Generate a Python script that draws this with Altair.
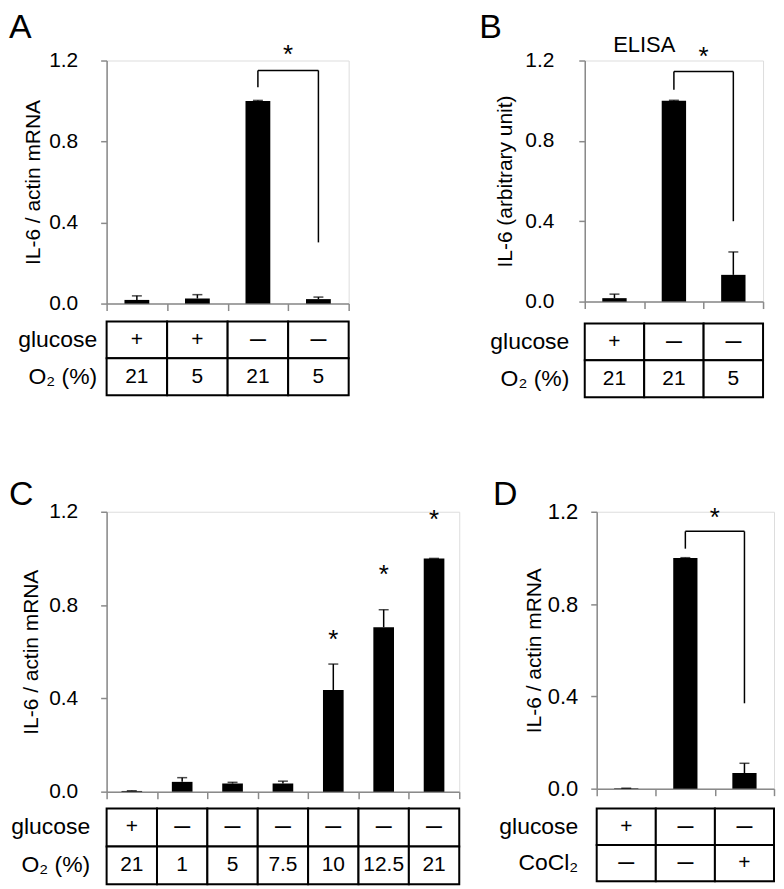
import altair as alt
import pandas as pd

FONT = "Liberation Sans"
AX = "#8a8a8a"
DASH = "—"

# ---------------- data ----------------
# Panel A
a_cats = ["A1", "A2", "A3", "A4"]
a_mean = [0.018, 0.025, 1.0, 0.022]
a_top = [0.038, 0.044, 1.003, 0.032]
a_rows = ["glucose", "O₂ (%)"]
a_glucose = ["+", "+", DASH, DASH]
a_o2 = ["21", "5", "21", "5"]
a_bracket = ["A3", "A4", 1.068, 0.302, 1.151]   # left, right, left low, right low, top
a_star_cat = ["A4"]
a_star_y = [1.263]

# Panel B
b_cats = ["B1", "B2", "B3"]
b_mean = [0.017, 1.0, 0.133]
b_top = [0.037, 1.002, 0.247]
b_rows = ["glucose", "O₂ (%)"]
b_glucose = ["+", DASH, DASH]
b_o2 = ["21", "21", "5"]
b_bracket = ["B2", "B3", 1.055, 0.40, 1.145]
b_star_cat = ["B3"]
b_star_y = [1.25]
b_label_cat = ["B2"]
b_label_y = [1.275]
b_label = ["ELISA"]

# Panel C
c_cats = ["C1", "C2", "C3", "C4", "C5", "C6", "C7"]
c_mean = [0.003, 0.042, 0.035, 0.035, 0.436, 0.705, 1.0]
c_top = [0.004, 0.060, 0.040, 0.045, 0.547, 0.780, 1.0]
c_rows = ["glucose", "O₂ (%)"]
c_glucose = ["+", DASH, DASH, DASH, DASH, DASH, DASH]
c_o2 = ["21", "1", "5", "7.5", "10", "12.5", "21"]
c_star_cat = ["C5", "C6", "C7"]
c_star_y = [0.678, 0.958, 1.196]

# Panel D
d_cats = ["D1", "D2", "D3"]
d_mean = [0.002, 1.0, 0.068]
d_top = [0.002, 1.001, 0.11]
d_rows = ["glucose", "CoCl₂"]
d_glucose = ["+", DASH, DASH]
d_cocl2 = [DASH, DASH, "+"]
d_bracket = ["D2", "D3", 1.04, 0.37, 1.115]
d_star_cat = ["D3"]
d_star_y = [1.205]


def panel(letter, cats, mean, top, rows, row_vals, w, h, ytitle, lab_pad,
          tit_pad, lab_fs, bracket, star_cat, star_y, star_band, tab_h, gap,
          row_pad, letter_dx, letter_dy, extra=None):
    xs = alt.Scale(domain=cats, paddingInner=0, paddingOuter=0)
    xaxis = alt.Axis(labels=False, title=None, ticks=True, tickBand="extent",
                     tickSize=7, tickColor=AX, domainColor=AX, tickWidth=1.5,
                     domainWidth=1.5)
    ys = alt.Scale(domain=[0, 1.2], nice=False, zero=True)
    yaxis = alt.Axis(values=[0, 0.4, 0.8, 1.2], format=".1f", grid=False,
                     title=ytitle, titleFont=FONT, titleFontSize=21,
                     titleFontWeight="normal", titleColor="black",
                     titlePadding=tit_pad, labelFont=FONT, labelFontSize=lab_fs,
                     labelColor="black", labelPadding=lab_pad, tickSize=6,
                     tickColor=AX, domainColor=AX, tickWidth=1.5, domainWidth=1.5)

    def X(field="cat", band=None):
        if band is None:
            return alt.X(f"{field}:N", sort=cats, scale=xs, axis=xaxis)
        return alt.X(f"{field}:N", sort=cats, scale=xs, axis=xaxis, bandPosition=band)

    def Y(field):
        return alt.Y(f"{field}:Q", scale=ys, axis=yaxis)

    df = pd.DataFrame({"cat": cats, "mean": mean, "top": top})
    bars = alt.Chart(df).mark_bar(color="black", width=alt.RelativeBandSize(0.41)).encode(
        x=X(), y=Y("mean"))
    err = alt.Chart(df).mark_rule(color="black", strokeWidth=1.5).encode(
        x=X(), y=Y("mean"), y2="top:Q")
    cap = alt.Chart(df).mark_tick(color="black", thickness=1.5, size=10,
                                  orient="horizontal").encode(x=X(), y=Y("top"))
    layers = [bars, err, cap]

    if bracket is not None:
        L, R, lo_l, lo_r, tp = bracket
        bdf = pd.DataFrame({"c1": [L, L, R], "c2": [L, R, R],
                            "y1": [lo_l, tp, lo_r], "y2": [tp, tp, tp]})
        layers.append(alt.Chart(bdf).mark_rule(color="black", strokeWidth=1.5).encode(
            x=X("c1"), x2="c2:N", y=Y("y1"), y2="y2:Q"))

    sdf = pd.DataFrame({"cat": star_cat, "y": star_y})
    layers.append(alt.Chart(sdf).mark_text(text="*", font=FONT, fontSize=26,
                                           baseline="alphabetic", dy=15,
                                           color="black").encode(
        x=X("cat", star_band), y=Y("y")))

    if extra is not None:
        ecat, ey, etext = extra
        edf = pd.DataFrame({"cat": ecat, "y": ey, "t": etext})
        layers.append(alt.Chart(edf).mark_text(font=FONT, fontSize=22,
                                               baseline="middle",
                                               color="black").encode(
            x=X("cat", 0), y=Y("y"), text="t:N"))

    # panel letter, anchored at the top-left corner of the plot
    ldf = pd.DataFrame({"cat": [cats[0]], "y": [1.2], "t": [letter]})
    layers.append(alt.Chart(ldf).mark_text(font=FONT, fontSize=34, align="left",
                                           baseline="alphabetic", dx=letter_dx,
                                           dy=letter_dy, color="black").encode(
        x=X("cat", 0), y=Y("y"), text="t:N"))

    top_chart = alt.layer(*layers).properties(width=w, height=h)

    recs = []
    for r, vals in zip(rows, row_vals):
        for c, v in zip(cats, vals):
            recs.append({"cat": c, "row": r, "v": v})
    tdf = pd.DataFrame(recs)
    tx = alt.X("cat:N", sort=cats, scale=alt.Scale(domain=cats, paddingInner=0,
                                                    paddingOuter=0), axis=None)
    ty = alt.Y("row:N", sort=rows, scale=alt.Scale(domain=rows, paddingInner=0,
                                                    paddingOuter=0),
               axis=alt.Axis(title=None, domain=False, ticks=False,
                             labelFont=FONT, labelFontSize=23, labelColor="black",
                             labelPadding=row_pad))
    rect = alt.Chart(tdf).mark_rect(fill="white", stroke="black",
                                    strokeWidth=2).encode(x=tx, y=ty)
    txt = alt.Chart(tdf).transform_filter(f"datum.v != '{DASH}'").mark_text(
        font=FONT, fontSize=21, color="black").encode(x=tx, y=ty, text="v:N")
    dash = alt.Chart(tdf).transform_filter(f"datum.v == '{DASH}'").mark_text(
        font=FONT, fontSize=16, fontWeight="bold", color="black").encode(
        x=tx, y=ty, text="v:N")
    table = alt.layer(rect, txt, dash).properties(width=w, height=tab_h)

    return alt.vconcat(top_chart, table, spacing=gap, bounds="flush")


pA = panel("A", a_cats, a_mean, a_top, a_rows, [a_glucose, a_o2], 243, 244,
           "IL-6 / actin mRNA", 23, 5, 21, a_bracket, a_star_cat, a_star_y, 0,
           74, 18, 10, -98, -23)
pB = panel("B", b_cats, b_mean, b_top, b_rows, [b_glucose, b_o2], 179, 242,
           "IL-6 (arbitrary unit)", 25, 9, 21, b_bracket, b_star_cat, b_star_y, 0,
           74, 22, 16, -106, -23, extra=(b_label_cat, b_label_y, b_label))
pC = panel("C", c_cats, c_mean, c_top, c_rows, [c_glucose, c_o2], 354, 281,
           "IL-6 / actin mRNA", 23, 7, 21, None, c_star_cat, c_star_y, 0.5,
           76, 17, 17, -98, -7)
pD = panel("D", d_cats, d_mean, d_top, d_rows, [d_glucose, d_cocl2], 178, 278,
           "IL-6 / actin mRNA", 13, 3, 22, d_bracket, d_star_cat, d_star_y, 0,
           73, 20, 19, -104, -7)

row1 = alt.hconcat(pA, pB, spacing=128, bounds="full")
row2 = alt.hconcat(pC, pD, spacing=31, bounds="full")
chart = alt.vconcat(row1, row2, spacing=78, bounds="full").properties(
    padding={"left": 0, "top": 0, "right": 0, "bottom": 0}
).configure_view(stroke=None).configure(background="white")

chart.save("out.html", embed_options={"renderer": "svg", "actions": False})
